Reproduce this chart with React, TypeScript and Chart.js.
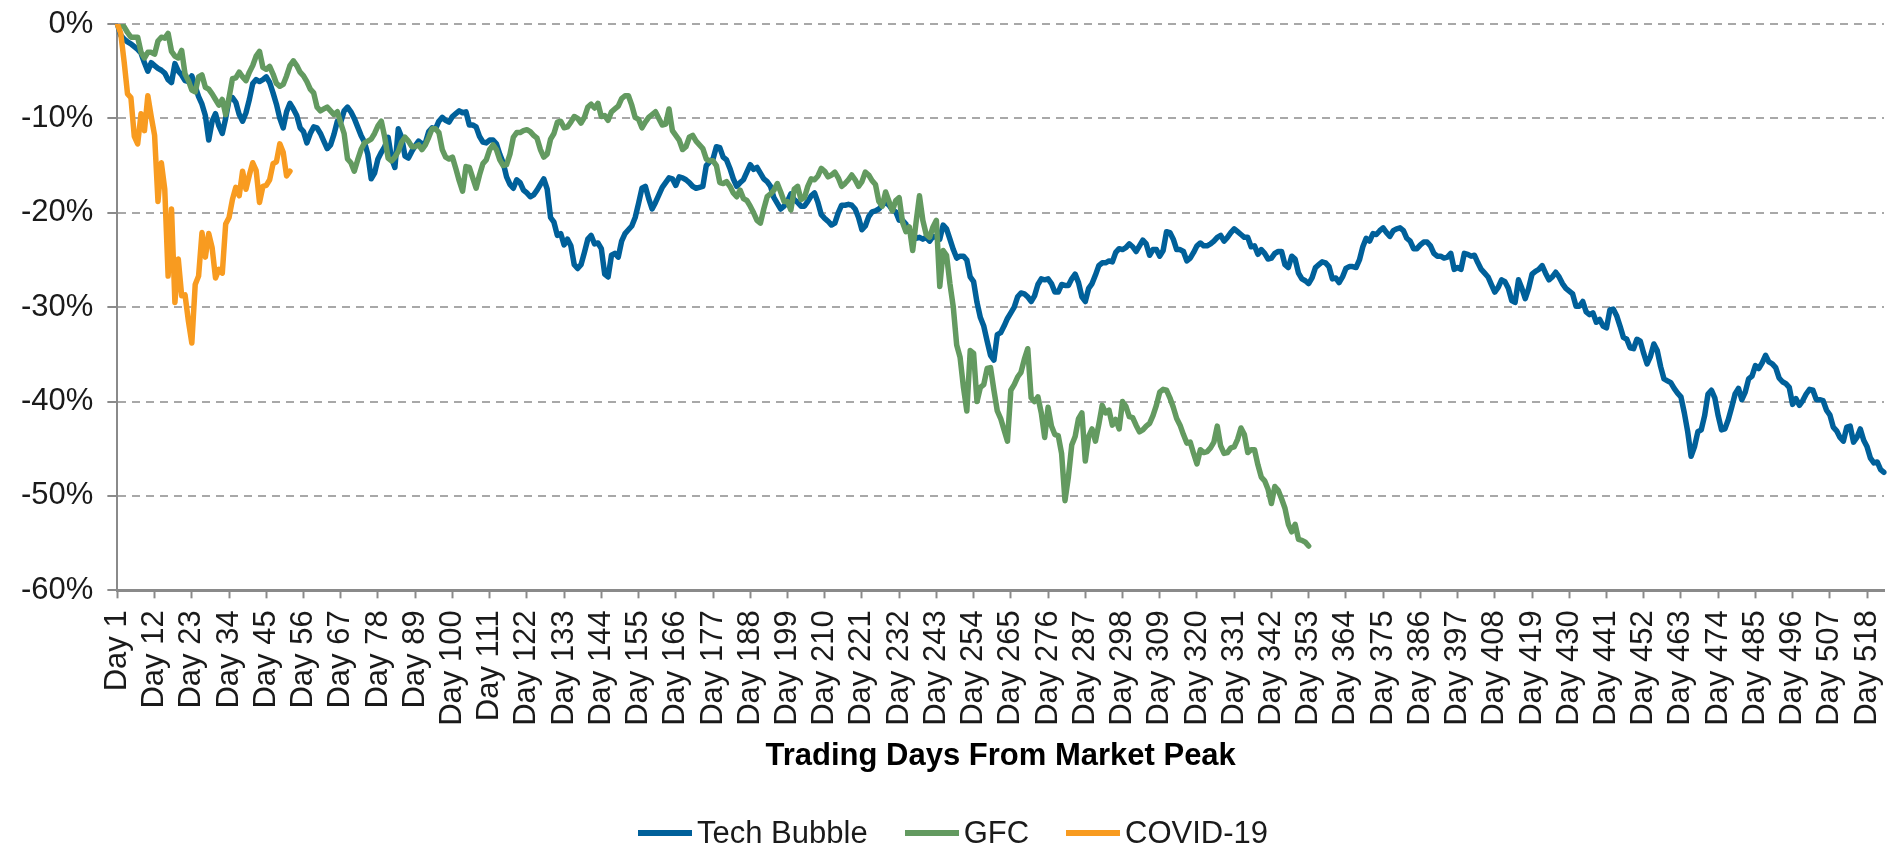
import { useEffect, useRef } from 'react';
import { Chart, registerables } from 'chart.js';

Chart.register(...registerables);

// ---- Data (percent drawdown from market peak) ----
const DAY_COUNT = 523;
const dayLabels: string[] = Array.from({ length: DAY_COUNT }, (_, i) => `Day ${i + 1}`);
const LABEL_EVERY = 11;

const techBubble: number[] = [
  0, -1.2, -1.6, -1.9, -2.1, -2.4, -2.7, -3.1, -4.1, -5.0,
  -4.1, -4.4, -4.7, -4.9, -5.2, -5.9, -6.2, -4.2, -5.0, -5.4,
  -6.0, -6.1, -5.5, -6.6, -7.7, -8.5, -9.7, -12.3, -10.3, -9.5,
  -10.8, -11.6, -10.0, -8.0, -7.8, -8.3, -9.6, -10.3, -9.4, -8.0,
  -6.3, -5.9, -6.1, -5.9, -5.6, -6.2, -7.3, -8.5, -10.0, -11.0,
  -9.3, -8.4, -9.0, -9.7, -11.0, -11.4, -12.6, -11.6, -10.9, -11.0,
  -11.6, -12.4, -13.2, -12.8, -11.7, -10.3, -10.4, -9.2, -8.8, -9.3,
  -10.0, -10.9, -11.8, -12.5, -13.8, -16.4, -15.8, -14.3, -13.6, -13.0,
  -12.0, -14.2, -15.2, -11.1, -12.0, -14.0, -14.2, -13.5, -12.9, -12.4,
  -12.7, -12.6, -11.4, -11.0, -11.1, -10.3, -9.9, -10.2, -10.4, -9.8,
  -9.5, -9.2, -9.4, -9.3, -10.7, -10.7, -10.9, -11.9, -12.5, -12.6,
  -12.3, -12.3, -12.7, -13.8, -14.7, -16.2, -17.0, -17.4, -16.5, -16.8,
  -17.6, -17.9, -18.3, -18.1, -17.6, -17.0, -16.4, -17.5, -20.5, -21.0,
  -22.4, -22.2, -23.4, -22.8, -23.5, -25.5, -25.9, -25.5, -24.2, -22.8,
  -22.4, -23.3, -23.2, -23.8, -26.5, -26.8, -24.5, -24.3, -24.7, -23.0,
  -22.2, -21.8, -21.4, -20.5, -19.0, -17.4, -17.2, -18.5, -19.6, -18.9,
  -18.1, -17.3, -16.8, -16.3, -16.4, -17.1, -16.2, -16.3, -16.5, -16.8,
  -17.2, -17.4, -17.3, -17.2, -15.0, -14.6, -14.3, -13.0, -13.1, -14.1,
  -14.4, -15.3, -16.4, -17.2, -16.8, -16.5, -15.7, -14.9, -15.4, -15.2,
  -15.8, -16.4, -16.7, -17.2, -18.4, -19.0, -19.6, -19.3, -18.8, -18.0,
  -18.6, -18.9, -19.3, -19.3, -18.8, -18.2, -17.9, -18.9, -20.2, -20.6,
  -20.9, -21.3, -21.1, -20.0, -19.2, -19.2, -19.1, -19.2, -19.6, -20.5,
  -21.8, -21.4, -20.4, -19.9, -19.8, -19.6, -19.2, -18.9, -19.2, -19.7,
  -19.9, -20.8, -20.8, -21.2, -22.0, -22.1, -22.7, -22.6, -22.8, -22.6,
  -23.0, -22.5, -22.6, -22.8, -21.3, -21.7, -22.8, -23.9, -24.8, -24.6,
  -24.6, -25.0, -26.8, -27.3, -29.5, -31.1, -32.0, -33.6, -35.1, -35.6,
  -32.9, -32.7, -32.0, -31.2, -30.6, -30.0, -28.9, -28.5, -28.6, -28.9,
  -29.4, -28.8, -27.6, -27.0, -27.1, -27.0, -27.5, -28.4, -28.4, -27.6,
  -27.7, -27.7, -27.0, -26.5, -27.4, -28.9, -29.4, -28.0, -27.5, -26.6,
  -25.6, -25.3, -25.3, -25.1, -25.2, -24.2, -23.8, -23.9, -23.7, -23.3,
  -23.6, -24.1, -23.5, -22.9, -23.3, -24.5, -23.9, -23.9, -24.6, -24.0,
  -22.0, -22.1, -22.8, -23.9, -23.9, -24.1, -25.1, -24.8, -24.2, -23.5,
  -23.2, -23.5, -23.5, -23.3, -23.0, -22.6, -22.4, -23.0, -22.6, -22.1,
  -21.7, -22.0, -22.3, -22.6, -22.6, -23.6, -23.5, -24.4, -23.9, -24.3,
  -24.9, -24.8, -24.3, -24.1, -24.1, -25.5, -25.8, -24.6, -24.9, -26.4,
  -27.0, -27.2, -27.5, -26.9, -25.8, -25.5, -25.2, -25.3, -25.7, -27.0,
  -26.9, -27.4, -26.8, -25.9, -25.7, -25.7, -25.8, -25.0, -23.6, -22.7,
  -23.0, -22.2, -22.3, -21.9, -21.6, -22.1, -22.5, -21.9, -21.7, -21.6,
  -21.9, -22.7, -23.0, -23.8, -23.8, -23.4, -23.1, -23.1, -23.5, -24.3,
  -24.6, -24.6, -24.8, -24.7, -24.3, -26.0, -25.8, -26.0, -24.3, -24.4,
  -24.6, -24.5, -25.3, -26.0, -26.4, -26.8, -27.6, -28.4, -27.9, -27.1,
  -27.3, -28.0, -29.3, -29.5, -27.1, -28.0, -29.1, -28.0, -26.5, -26.2,
  -26.0, -25.6, -26.4, -27.1, -26.8, -26.3, -26.8, -27.5, -28.0, -28.3,
  -28.6, -29.9, -29.9, -29.4, -30.5, -30.8, -30.6, -31.6, -31.3, -32.0,
  -32.2, -30.3, -30.2, -30.9, -32.0, -33.2, -33.4, -34.3, -34.4, -33.4,
  -33.6, -34.9, -36.0, -35.2, -33.9, -34.6, -36.3, -37.6, -37.8, -38.0,
  -38.6, -39.1, -39.5, -41.2, -43.2, -45.8, -44.8, -43.2, -43.0, -41.5,
  -39.2, -38.8, -39.6, -41.5, -43.0, -42.9, -41.9, -40.6, -39.2, -38.6,
  -39.8, -39.0, -37.6, -37.3, -36.2, -36.5, -35.9, -35.1, -35.8, -36.0,
  -36.4, -37.5, -37.9, -38.1, -38.5, -40.3, -39.7, -40.4, -39.9, -39.2,
  -38.7, -38.8, -39.8, -39.8, -39.9, -40.9, -41.4, -42.7, -43.1, -43.8,
  -44.2, -42.7, -42.6, -44.3, -43.8, -42.9, -44.1, -44.8, -46.0, -46.5,
  -46.4, -47.2, -47.5,
];

const gfc: number[] = [
  0, 0, -0.3, -0.9, -1.4, -1.4, -1.4, -3.0, -3.6, -3.0,
  -3.0, -3.2, -1.8, -1.4, -1.5, -1.0, -2.9, -3.4, -3.6, -2.8,
  -5.3, -6.0, -7.0, -7.2, -5.6, -5.4, -6.7, -6.9, -7.4, -8.0,
  -8.6, -8.0, -9.6, -7.8, -5.8, -5.7, -5.1, -5.6, -6.0, -5.1,
  -4.4, -3.4, -2.9, -4.6, -4.8, -4.5, -5.3, -6.3, -6.6, -6.4,
  -5.5, -4.4, -3.9, -4.4, -5.1, -5.5, -6.1, -6.9, -7.3, -8.8,
  -9.2, -9.0, -8.8, -9.2, -9.6, -9.3, -10.5, -11.6, -14.3, -14.7,
  -15.6, -14.4, -13.3, -12.6, -12.4, -12.2, -11.6, -10.8, -10.3, -12.0,
  -14.2, -14.5, -14.1, -13.5, -12.5, -12.0, -12.4, -13.0, -13.0, -12.8,
  -13.3, -12.8, -12.0, -11.1, -11.1, -11.5, -13.3, -14.1, -14.3, -14.1,
  -15.3, -16.6, -17.7, -15.1, -15.2, -16.3, -17.4, -16.0, -14.8, -14.4,
  -13.3, -12.8, -13.3, -14.4, -15.0, -14.9, -13.8, -12.0, -11.5, -11.5,
  -11.3, -11.2, -11.4, -11.8, -12.1, -13.3, -14.1, -13.8, -12.2, -11.6,
  -10.4, -10.3, -11.0, -10.9, -10.4, -9.8, -10.0, -10.5, -9.9, -8.8,
  -8.5, -8.9, -8.4, -9.8, -9.7, -10.2, -9.3, -9.0, -8.7, -7.9,
  -7.6, -7.6, -8.6, -9.9, -10.1, -11.0, -10.4, -9.9, -9.6, -9.3,
  -10.0, -10.7, -10.6, -9.0, -11.3, -11.8, -12.3, -13.3, -13.0, -12.0,
  -11.8, -12.4, -12.8, -13.2, -14.3, -14.5, -14.5, -15.0, -16.8, -16.9,
  -16.7, -17.2, -17.9, -18.3, -17.6, -18.5, -18.7, -19.3, -20.0, -20.8,
  -21.1, -19.6, -18.3, -18.0, -17.6, -16.9, -17.8, -18.8, -18.8, -19.7,
  -17.5, -17.2, -18.6, -18.4, -17.2, -16.4, -16.5, -16.1, -15.3, -15.6,
  -16.2, -16.0, -15.7, -16.3, -17.2, -16.9, -16.5, -16.0, -16.5, -17.2,
  -16.7, -15.7, -16.0, -16.6, -17.0, -18.8, -19.3, -17.8, -18.8, -19.8,
  -18.7, -18.4, -21.0, -22.0, -21.5, -24.0, -21.0, -18.2, -20.8, -22.3,
  -22.6, -21.5, -20.8, -27.8, -24.0, -24.5, -27.5, -30.0, -34.0, -35.3,
  -38.5, -41.0, -34.6, -34.9, -40.0, -38.5, -38.2, -36.5, -36.4, -38.8,
  -41.0, -41.8, -43.0, -44.2, -38.8, -38.2, -37.4, -36.9, -35.5, -34.4,
  -39.6, -40.0, -39.5, -41.2, -43.8, -40.6, -42.6, -43.5, -43.6, -45.5,
  -50.5, -48.0, -44.6, -43.7, -41.8, -41.2, -46.3, -43.7, -42.9, -44.2,
  -42.4, -40.4, -41.2, -40.9, -42.5, -41.9, -42.9, -40.0, -40.5, -41.6,
  -41.7, -42.5, -43.2, -43.0, -42.6, -42.3, -41.5, -40.4, -39.0, -38.7,
  -38.8, -39.6, -40.6, -41.8, -42.5, -43.5, -44.4, -44.3, -45.5, -46.6,
  -45.1, -45.4, -45.3, -44.9, -44.3, -42.6, -44.7, -45.5, -45.4, -44.9,
  -44.8, -44.0, -42.8, -43.5, -45.4, -45.1, -45.1, -46.7, -48.0, -48.4,
  -49.3, -50.8, -49.0, -49.4, -50.3, -51.3, -53.0, -53.8, -53.0, -54.6,
  -54.7, -54.9, -55.3,
];

const covid: number[] = [
  0, -1.0, -4.0, -7.4, -7.8, -11.9, -12.7, -9.5, -11.3, -7.6,
  -9.8, -11.8, -18.8, -14.7, -17.5, -26.7, -19.6, -29.5, -24.9, -28.8,
  -28.7, -31.5, -33.8, -27.6, -26.7, -22.1, -24.7, -22.2, -23.7, -26.9,
  -26.0, -26.4, -21.2, -20.5, -18.6, -17.3, -18.2, -15.6, -17.5, -16.0,
  -14.7, -15.5, -18.9, -17.2, -17.1, -16.5, -14.8, -14.6, -12.7, -13.6,
  -16.1, -15.6,
];

const Y_MIN = -60;
const Y_MAX = 0;
const Y_STEP = 10;
const X_TITLE = 'Trading Days From Market Peak';

// ---- Styles ----
const FONT = '"Liberation Sans", Arial, Helvetica, sans-serif';
const TECH_COLOR = '#00609a';
const GFC_COLOR = '#639a60';
const COVID_COLOR = '#f89b20';
const AXIS_COLOR = '#8a8a8a';
const GRID_COLOR = '#a8a8a8';
const TEXT_COLOR = '#1a1a1a';
const LINE_W = 5.5;

const legendItems = [
  { label: 'Tech Bubble', color: TECH_COLOR },
  { label: 'GFC', color: GFC_COLOR },
  { label: 'COVID-19', color: COVID_COLOR },
];

export default function App() {
  const canvasRef = useRef<HTMLCanvasElement>(null);

  useEffect(() => {
    if (!canvasRef.current) return;
    const lineDs = (label: string, data: number[], color: string) => ({
      label,
      data,
      borderColor: color,
      backgroundColor: color,
      borderWidth: LINE_W,
      pointRadius: 0,
      pointHoverRadius: 0,
      tension: 0,
      fill: false,
      borderJoinStyle: 'round' as const,
      borderCapStyle: 'round' as const,
    });

    const chart = new Chart(canvasRef.current, {
      type: 'line',
      data: {
        labels: dayLabels,
        // first dataset is drawn on top in Chart.js
        datasets: [
          lineDs('COVID-19', covid, COVID_COLOR),
          lineDs('GFC', gfc, GFC_COLOR),
          lineDs('Tech Bubble', techBubble, TECH_COLOR),
        ],
      },
      options: {
        animation: false,
        responsive: false,
        devicePixelRatio: 1,
        layout: { padding: { left: 7, right: 6, top: 24, bottom: 72 } },
        plugins: {
          legend: { display: false },
          tooltip: { enabled: false },
        },
        scales: {
          x: {
            type: 'category',
            afterFit: (s: any) => {
              s.paddingLeft = 0;
              s.paddingRight = 0;
            },
            grid: {
              display: true,
              drawOnChartArea: false,
              drawTicks: true,
              tickLength: 8,
              tickWidth: 2,
              tickColor: (c: any) => (c.index % LABEL_EVERY === 0 ? AXIS_COLOR : 'rgba(0,0,0,0)'),
            },
            border: { display: true, color: AXIS_COLOR, width: 3 },
            ticks: {
              autoSkip: false,
              maxRotation: 90,
              minRotation: 90,
              padding: 12,
              color: TEXT_COLOR,
              font: { family: FONT, size: 31 },
              callback: (_v: any, i: number) => (i % LABEL_EVERY === 0 ? dayLabels[i] : ''),
            },
            title: {
              display: true,
              text: X_TITLE,
              color: '#000',
              font: { family: FONT, size: 31, weight: 'bold' },
              padding: { top: 0, bottom: 0 },
            },
          },
          y: {
            min: Y_MIN,
            max: Y_MAX,
            afterFit: (s: any) => {
              s.paddingTop = 0;
              s.paddingBottom = 0;
            },
            ticks: {
              stepSize: Y_STEP,
              padding: 14,
              color: TEXT_COLOR,
              font: { family: FONT, size: 31 },
              callback: (v: any) => `${v}%`,
            },
            grid: {
              color: GRID_COLOR,
              lineWidth: 2,
              drawTicks: true,
              tickLength: 10,
              tickWidth: 2,
              tickColor: AXIS_COLOR,
              tickBorderDash: [],
            },
            border: { display: true, color: AXIS_COLOR, width: 2, dash: [8, 6] },
          },
        },
      },
    });
    return () => chart.destroy();
  }, []);

  return (
    <div style={{ position: 'fixed', left: 0, top: 0, width: 1890, height: 847, background: '#fff' }}>
      <canvas ref={canvasRef} width={1890} height={847} style={{ display: 'block', width: 1890, height: 847 }} />
      <div
        style={{
          position: 'absolute',
          left: 638,
          top: 815,
          height: 36,
          display: 'flex',
          alignItems: 'center',
          fontFamily: FONT,
          fontSize: 31,
          color: TEXT_COLOR,
          whiteSpace: 'nowrap',
          lineHeight: '36px',
        }}
      >
        {legendItems.map((it, i) => (
          <div key={it.label} style={{ display: 'flex', alignItems: 'center', marginLeft: i ? 37 : 0 }}>
            <span style={{ display: 'inline-block', width: 54, height: 6, background: it.color, marginRight: 5 }} />
            <span>{it.label}</span>
          </div>
        ))}
      </div>
    </div>
  );
}
